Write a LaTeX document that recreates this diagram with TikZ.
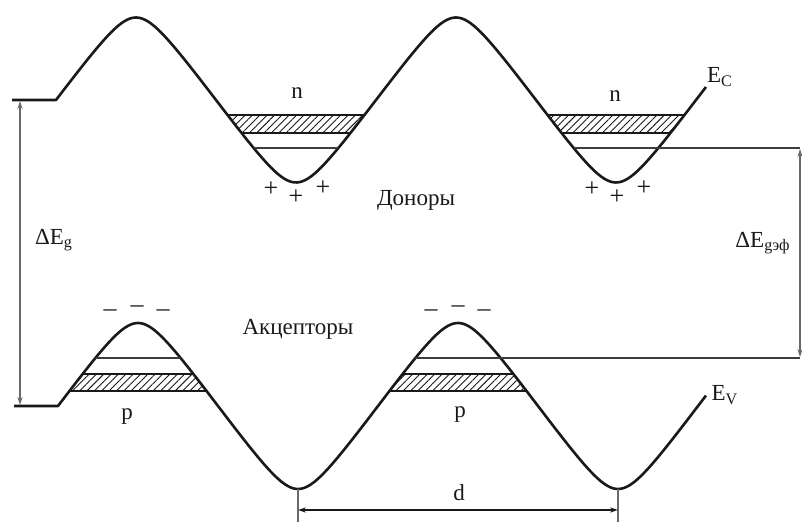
\documentclass[tikz,border=0pt]{standalone}
\usepackage{fontspec}
\setmainfont{Liberation Serif}
\usepackage{tikz}
\usetikzlibrary{arrows.meta, positioning, patterns.meta}
\definecolor{mydark}{RGB}{25,25,25}
\definecolor{mygray}{RGB}{105,105,105}
\tikzset{
  bandedge/.style={line width=1.3pt, color=mydark, line join=round},
  level/.style={line width=0.65pt, color=mydark!85},
  hatch/.style={pattern={Lines[angle=45, distance=2.6pt, line width=0.45pt]},
    pattern color=mydark, draw=mydark, line width=0.55pt},
  dimline/.style={{Stealth[length=4pt,width=2.6pt]}-{Stealth[length=4pt,width=2.6pt]},
    line width=0.7pt, color=mygray},
  dimtick/.style={line width=0.7pt, color=mygray},
  lbl/.style={font=\fontsize{11.5}{13}\selectfont, inner sep=0pt, text=mydark},
  sign/.style={font=\fontsize{13}{15}\selectfont, inner sep=0pt, text=mydark}
}

\begin{document}
\begin{tikzpicture}[x=0.5pt, y=-0.5pt]
  \useasboundingbox (0,0) rectangle (802,522);

  % Conduction band edge E_C
  \draw[bandedge] (12,100) -- (56,100)
    -- plot[domain=56:706, samples=260] (\x, {100-82.5*asin(0.9*sin(1.125*(\x-56)))/64.158});
  % Valence band edge E_V
  \draw[bandedge] (14,406) -- (58,406)
    -- plot[domain=58:706, samples=260] (\x, {406-83*asin(0.9*sin(1.125*(\x-58)))/64.158});

  % Donor levels in the wells of E_C
  \begin{scope}
    \clip plot[domain=56:706, samples=260] (\x, {100-82.5*asin(0.9*sin(1.125*(\x-56)))/64.158})
      -- (706,0) -- (56,0) -- cycle;
    \draw[hatch] (200,115) rectangle (400,133);
    \draw[hatch] (520,115) rectangle (720,133);
    \draw[level] (200,148) -- (400,148);
  \end{scope}
  \draw[level] (573.7,148) -- (800,148);

  % Acceptor levels under the humps of E_V
  \begin{scope}
    \clip plot[domain=58:706, samples=260] (\x, {406-83*asin(0.9*sin(1.125*(\x-58)))/64.158})
      -- (706,522) -- (58,522) -- cycle;
    \draw[hatch] (40,374) rectangle (240,391);
    \draw[hatch] (360,374) rectangle (560,391);
    \draw[level] (40,358) -- (240,358);
  \end{scope}
  \draw[level] (415.4,358) -- (800,358);

  % Band gap and effective gap
  \coordinate (gapTop) at (20,101);
  \coordinate (gapBot) at (20,405);
  \draw[dimline] (gapTop) -- (gapBot);
  \node[lbl] (gapLabel) at (54,240) {ΔE\textsubscript{g}};
  \coordinate (effTop) at (800,149);
  \coordinate (effBot) at (800,357);
  \draw[dimline] (effTop) -- (effBot);
  \node[lbl] (effLabel) at (763,243) {ΔE\textsubscript{gэф}};

  % Period d
  \coordinate (dLeftTop) at (298,489);
  \coordinate (dLeftBot) at (298,522);
  \coordinate (dRightTop) at (618,489);
  \coordinate (dRightBot) at (618,522);
  \draw[dimtick] (dLeftTop) -- (dLeftBot);
  \draw[dimtick] (dRightTop) -- (dRightBot);
  \coordinate (dLeft) at (298,510);
  \coordinate (dRight) at (618,510);
  \draw[dimline, color=mydark] (dLeft) -- (dRight);
  \node[lbl] (dLabel) at (459,493) {d};

  % Labels
  \node[lbl] (ecLabel) at (720,77) {E\textsubscript{C}};
  \node[lbl] (evLabel) at (725,395) {E\textsubscript{V}};
  \node[lbl] (nLeft) at (297,93) {n};
  \node[lbl] (nRight) at (615,96) {n};
  \node[lbl] (pLeft) at (127,417) {p};
  \node[lbl] (pRight) at (460,415) {p};
  \node[lbl] (donors) at (416,200) {Доноры};
  \node[lbl] (acceptors) at (298,329) {Акцепторы};

  % Ionised donors and acceptors
  \foreach \cx [count=\i] in {296,617} {
    \node[sign] (plusA\i) at (\cx-25,189) {+};
    \node[sign] (plusB\i) at (\cx,197) {+};
    \node[sign] (plusC\i) at (\cx+27,188) {+};
  }
  \foreach \cx [count=\i] in {137,458} {
    \node[sign] (minusA\i) at (\cx-27,313) {–};
    \node[sign] (minusB\i) at (\cx,309) {–};
    \node[sign] (minusC\i) at (\cx+26,313) {–};
  }
\end{tikzpicture}
\end{document}
